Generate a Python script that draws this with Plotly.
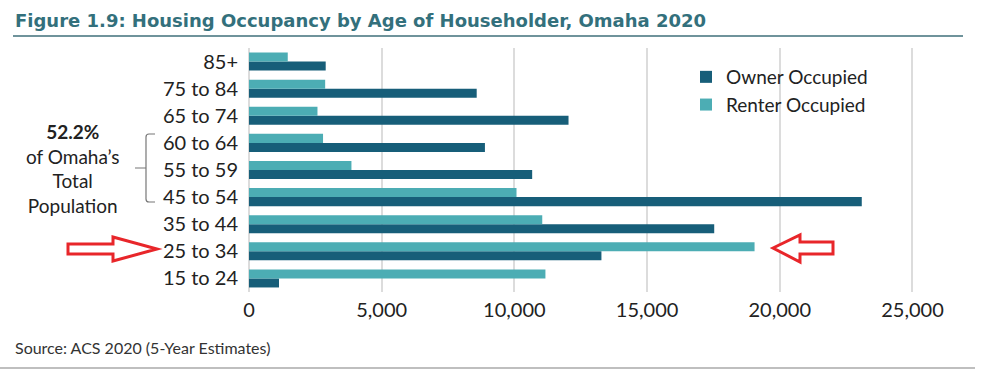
import plotly.graph_objects as go

# ---- data ----
age_groups = ["15 to 24", "25 to 34", "35 to 44", "45 to 54", "55 to 59",
              "60 to 64", "65 to 74", "75 to 84", "85+"]
owner_occupied = [1130, 13280, 17530, 23090, 10670, 8890, 12040, 8580, 2890]
renter_occupied = [11170, 19050, 11050, 10080, 3860, 2790, 2580, 2870, 1460]
x_ticks = [0, 5000, 10000, 15000, 20000, 25000]
x_tick_labels = ["0", "5,000", "10,000", "15,000", "20,000", "25,000"]

OWNER = "#175e79"
RENTER = "#4cadb4"
FONT = "Lato"

W, H = 1006, 382
L, R, T, B = 249, 67, 48, 90
PW, PH = W - L - R, H - T - B


def px(x):
    return (x - L) / PW


def py(y):
    return (H - B - y) / PH


fig = go.Figure()
fig.add_trace(go.Bar(y=age_groups, x=owner_occupied, orientation="h",
                     name="Owner Occupied", marker=dict(color=OWNER, line_width=0)))
fig.add_trace(go.Bar(y=age_groups, x=renter_occupied, orientation="h",
                     name="Renter Occupied", marker=dict(color=RENTER, line_width=0)))

fig.update_layout(
    width=W, height=H,
    margin=dict(l=L, r=R, t=T, b=B, autoexpand=False),
    paper_bgcolor="white", plot_bgcolor="white",
    barmode="group", bargap=0.335, bargroupgap=0,
    font=dict(family=FONT, size=20, color="#222222"),
    showlegend=True,
    legend=dict(x=px(686), y=py(58), xanchor="left", yanchor="top",
                traceorder="normal", font=dict(size=19, color="#222222"),
                bgcolor="rgba(255,255,255,0)"),
    xaxis=dict(range=[0, 26000], tickvals=x_ticks, ticktext=x_tick_labels,
               showgrid=True, gridcolor="#dcdcdc", gridwidth=1.5,
               zeroline=True, zerolinecolor="#dcdcdc", zerolinewidth=1.5,
               showline=False, ticks="", ticklabelstandoff=4,
               tickfont=dict(size=20, color="#222222")),
    yaxis=dict(type="category", categoryorder="array", categoryarray=age_groups,
               range=[-0.5, 8.5], showgrid=False, ticks="", showline=False,
               ticklabelstandoff=10, tickfont=dict(size=20, color="#222222")),
)

# Title and source
fig.add_annotation(xref="paper", yref="paper", x=px(13), y=py(20),
                   xanchor="left", yanchor="middle", showarrow=False,
                   text="<b>Figure 1.9: Housing Occupancy by Age of Householder, Omaha 2020</b>",
                   font=dict(family="DejaVu Sans", size=18, color="#33707c"))
fig.add_shape(type="line", xref="paper", yref="paper", x0=px(13), x1=px(963),
              y0=py(36), y1=py(36), line=dict(color="#3f6f7a", width=1.5))
fig.add_annotation(xref="paper", yref="paper", x=px(13), y=py(347),
                   xanchor="left", yanchor="middle", showarrow=False,
                   text="Source: ACS 2020 (5-Year Estimates)",
                   font=dict(family=FONT, size=16, color="#333333"))
fig.add_shape(type="line", xref="paper", yref="paper", x0=px(0), x1=px(975),
              y0=py(368), y1=py(368), line=dict(color="#aaaaaa", width=1.5))

# Side note with bracket
fig.add_annotation(xref="paper", yref="paper", x=px(72), y=py(168),
                   xanchor="center", yanchor="middle", showarrow=False,
                   text="<b>52.2%</b><br>of Omaha’s<br>Total<br>Population",
                   font=dict(family=FONT, size=19, color="#222222"))


def pth(points, close=False):
    s = "M " + " L ".join(f"{px(a):.5f},{py(b):.5f}" for a, b in points)
    return s + (" Z" if close else "")


bracket = (f"M {px(155):.5f},{py(134):.5f} L {px(149):.5f},{py(134):.5f} "
           f"Q {px(146):.5f},{py(134):.5f} {px(146):.5f},{py(137):.5f} "
           f"L {px(146):.5f},{py(199):.5f} "
           f"Q {px(146):.5f},{py(202):.5f} {px(149):.5f},{py(202):.5f} "
           f"L {px(155):.5f},{py(202):.5f} "
           f"M {px(135):.5f},{py(168):.5f} L {px(146):.5f},{py(168):.5f}")
fig.add_shape(type="path", xref="paper", yref="paper", path=bracket,
              line=dict(color="#777777", width=1.2))

# Red arrows
left_arrow = [(68, 244), (113, 244), (113, 237), (157, 249), (113, 261), (113, 254), (68, 254)]
right_arrow = [(773, 248), (800, 235), (800, 242), (833, 242), (833, 254), (800, 254), (800, 262)]
for pts in (left_arrow, right_arrow):
    fig.add_shape(type="path", xref="paper", yref="paper", path=pth(pts, True),
                  line=dict(color="#e8262a", width=3), fillcolor="white")

fig.write_html("out.html", config={"displayModeBar": False},
               post_script="document.body.style.margin='0px';")
